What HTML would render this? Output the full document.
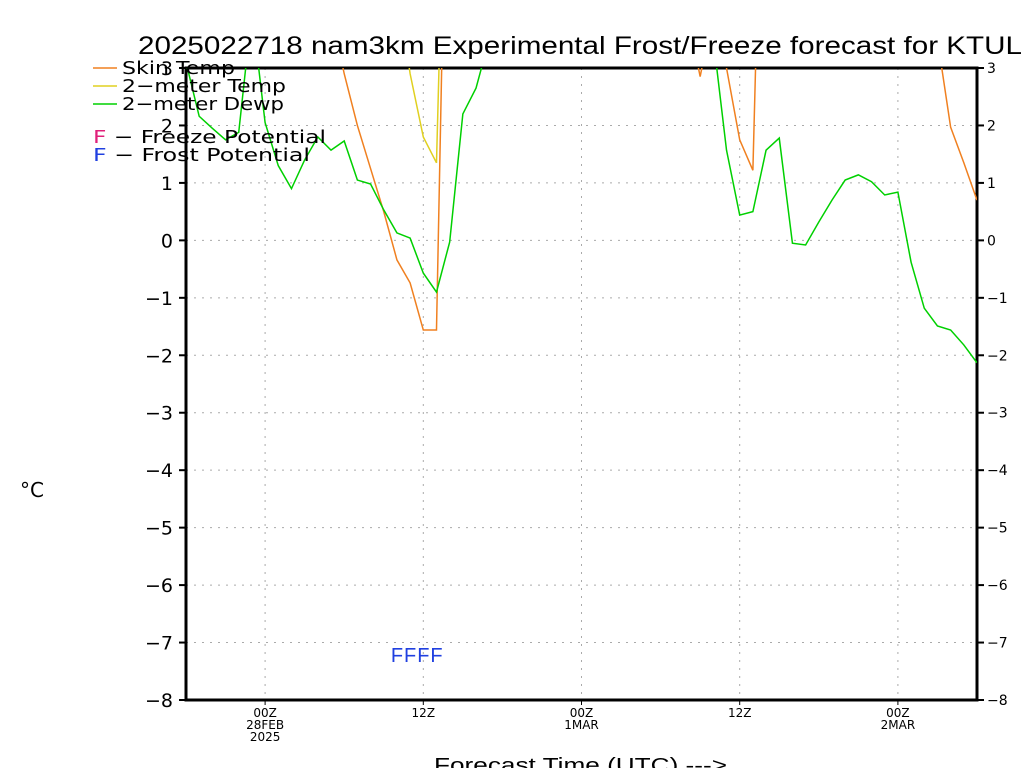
<!DOCTYPE html>
<html><head><meta charset="utf-8"><style>
body{margin:0;background:#fff;}
svg{display:block;font-family:"DejaVu Sans","Liberation Sans",sans-serif;}
</style></head><body>
<svg id="c" width="1024" height="768" viewBox="0 0 1024 768">
<defs><clipPath id="clip"><rect x="186" y="68" width="791" height="632"/></clipPath></defs>
<text x="138" y="54" font-size="25" font-family="Liberation Sans, sans-serif" textLength="884" lengthAdjust="spacingAndGlyphs" fill="#000">2025022718 nam3km Experimental Frost/Freeze forecast for KTUL</text>
<g id="grid"></g>
<g id="axes"></g>
<g id="series" clip-path="url(#clip)"></g>
<g id="legend"></g>
<text x="32" y="497" font-size="20" text-anchor="middle">°C</text>
<text x="434" y="772" font-size="20" font-family="Liberation Sans, sans-serif" textLength="293" lengthAdjust="spacingAndGlyphs">Forecast Time (UTC) ---&gt;</text>
</svg>
<script>
const hours=[-6,-5,-4,-3,-2,-1,0,1,2,3,4,5,6,7,8,9,10,11,12,13,14,15,16,17,18,19,20,21,22,23,24,25,26,27,28,29,30,31,32,33,34,35,36,37,38,39,40,41,42,43,44,45,46,47,48,49,50,51,52,53,54];
const skinTemp=[10,10,10,10,10,10,10,10,10,10,10,4,2.9,2.0,1.25,0.5,-0.34,-0.74,-1.56,-1.56,10,10,10,10,10,10,10,10,10,10,10,10,10,10,10,10,10,10,4,2.85,4,3.0,1.75,1.22,10,10,10,10,10,10,10,10,10,10,10,10,10,3.5,1.97,1.35,0.7];
const airTemp=[10,10,10,10,10,10,10,10,10,10,10,10,10,10,10,10,4.5,2.9,1.8,1.35,10,10,10,10,10,10,10,10,10,10,10,10,10,10,10,10,10,10,10,10,10,10,10,10,10,10,10,10,10,10,10,10,10,10,10,10,10,10,10,10,10];
const dewPoint=[3.1,2.16,1.95,1.75,1.88,4,2.05,1.3,0.9,1.4,1.8,1.57,1.73,1.05,0.98,0.53,0.13,0.04,-0.57,-0.9,-0.03,2.2,2.65,3.5,4,4,4,4,4,4,4,4,4,4,4,4,4,4,4,4,3.5,1.57,0.44,0.5,1.57,1.78,-0.05,-0.08,0.32,0.7,1.05,1.14,1.02,0.79,0.84,-0.38,-1.18,-1.49,-1.56,-1.82,-2.13];
const frostHours=[10,11,12,13];
const yTicks=[3,2,1,0,-1,-2,-3,-4,-5,-6,-7,-8];
const xTickHours=[0,12,24,36,48];
const xTickLabels=[["00Z","28FEB","2025"],["12Z"],["00Z","1MAR"],["12Z"],["00Z","2MAR"]];
const NS='http://www.w3.org/2000/svg';
const X0=186,X1=977,Y0=68,Y1=700,HMIN=-6,HMAX=54,VMIN=-8,VMAX=3;
const xs=h=>X0+(h-HMIN)/(HMAX-HMIN)*(X1-X0);
const ys=v=>Y0+(VMAX-v)/(VMAX-VMIN)*(Y1-Y0);
function mk(tag,attrs,parent){const e=document.createElementNS(NS,tag);for(const k in attrs)e.setAttribute(k,attrs[k]);parent.appendChild(e);return e;}
const grid=document.getElementById('grid'),axes=document.getElementById('axes'),series=document.getElementById('series'),legend=document.getElementById('legend');
yTicks.forEach(v=>{const y=ys(v);
 const g=mk('line',{x1:X0,x2:X1,y1:y,y2:y,stroke:'#aaa','stroke-dasharray':'2,6'},grid);
 
 mk('line',{x1:X0-7,x2:X0,y1:y,y2:y,stroke:'#000','stroke-width':2},axes);
 mk('line',{x1:X1,x2:X1+7,y1:y,y2:y,stroke:'#000','stroke-width':2},axes);
 const t=mk('text',{x:X0-13,y:y+7,'font-size':19,'text-anchor':'end'},axes);t.textContent=v<0?'\u2212'+(-v):v;
 
 const t2=mk('text',{x:X1+10,y:y+5,'font-size':14},axes);t2.textContent=v<0?'\u2212'+(-v):v;
 
});
xTickHours.forEach((h,i)=>{const x=xs(h);
 const g=mk('line',{x1:x,x2:x,y1:Y0,y2:Y1,stroke:'#aaa','stroke-dasharray':'2,6'},grid);
 
 mk('line',{x1:x,x2:x,y1:Y1,y2:Y1+5,stroke:'#000'},axes);
 xTickLabels[i].forEach((s,j)=>{const t=mk('text',{x:x,y:Y1+17+j*12,'font-size':12,'text-anchor':'middle'},axes);t.textContent=s;
  });
});
mk('rect',{x:X0,y:Y0,width:X1-X0,height:Y1-Y0,fill:'none',stroke:'#000','stroke-width':3},axes);
function line(vals,color,name){const p=mk('polyline',{points:vals.map((v,i)=>xs(hours[i])+','+ys(v)).join(' '),fill:'none',stroke:color,'stroke-width':1.5},series);
 }
line(skinTemp,'#f08020','skin-temp-line');
line(airTemp,'#e0d020','air-temp-line');
line(dewPoint,'#00d000','dewpoint-line');
frostHours.forEach(h=>{const t=mk('text',{x:xs(h),y:ys(-7.2)+8,'font-size':20,'text-anchor':'middle',fill:'#2040e0','font-family':'Liberation Sans, sans-serif'},axes);t.textContent='F';
 });
const leg=[['#f08020','Skin Temp',74,113],['#e0d020','2\u2212meter Temp',92,164],['#00d000','2\u2212meter Dewp',110,162]];
leg.forEach(l=>{mk('line',{x1:93,x2:117,y1:l[2]-6,y2:l[2]-6,stroke:l[0],'stroke-width':1.5},legend);
 const t=mk('text',{x:122,y:l[2],'font-size':18,textLength:l[3],lengthAdjust:'spacingAndGlyphs'},legend);t.textContent=l[1];
 });
[['#e0207a','F \u2212 Freeze Potential',143,233],['#2040e0','F \u2212 Frost Potential',161,217]].forEach(l=>{
 const t=mk('text',{x:93,y:l[2],'font-size':18,textLength:l[3],lengthAdjust:'spacingAndGlyphs'},legend);
 const a=mk('tspan',{fill:l[0]},t);a.textContent='F';const b=mk('tspan',{},t);b.textContent=l[1].slice(1);
 });
</script>
</body></html>
